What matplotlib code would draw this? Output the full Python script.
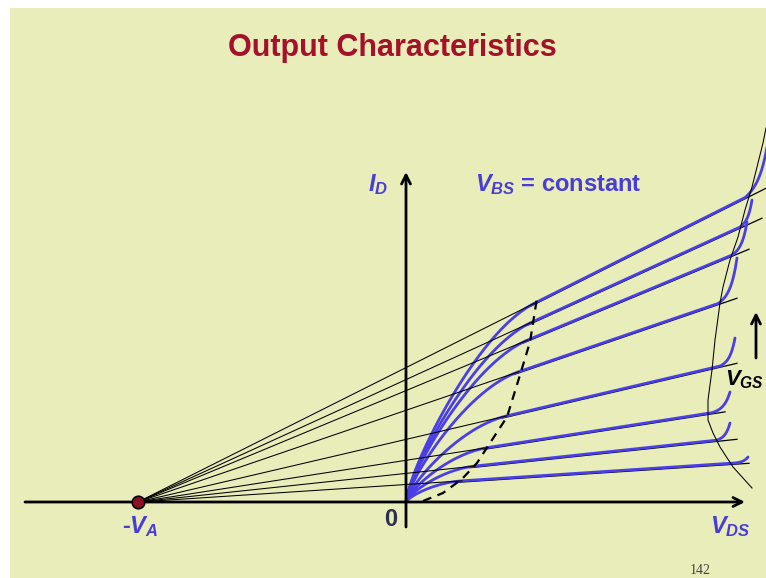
import numpy as np
import matplotlib
matplotlib.use('Agg')
import matplotlib.pyplot as plt
from matplotlib.patches import Rectangle
from matplotlib.transforms import offset_copy

plt.rcParams['font.family'] = ['Liberation Sans', 'DejaVu Sans']
plt.rcParams['mathtext.fontset'] = 'custom'
plt.rcParams['mathtext.it'] = 'Liberation Sans:bold:italic'
plt.rcParams['mathtext.rm'] = 'Liberation Sans:bold'
plt.rcParams['mathtext.bf'] = 'Liberation Sans:bold'

# Early voltage (all saturation lines meet at -VA on the VDS axis)
VA = 2.68
# drain current at VDS = 0 for each saturation line, top curve first
id0 = [1.344, 1.224, 1.114, 0.917, 0.626, 0.417, 0.286, 0.175]
# VDS where each curve enters saturation
vdsat = [1.29, 1.26, 1.22, 1.13, 1.01, 0.82, 0.69, 0.56]
# right end of each thin saturation line
line_end = [3.60, 3.56, 3.43, 3.31, 3.31, 3.19, 3.31, 3.43]
# breakdown: start of upturn, end of curve and current at the end
bd_start = [3.39, 3.34, 3.26, 3.12, 3.14, 3.06, 3.10, 3.29]
bd_end = [3.64, 3.46, 3.41, 3.31, 3.29, 3.24, 3.24, 3.42]
bd_id = [3.75, 3.02, 2.80, 2.44, 1.64, 1.10, 0.79, 0.45]
# dashed VDS,sat boundary
sat_v = [0.17, 0.37, 0.56, 0.71, 0.84, 1.01, 1.14, 1.24, 1.31]
sat_i = [0.01, 0.09, 0.23, 0.39, 0.59, 0.85, 1.27, 1.60, 2.04]
# breakdown locus sketched through the upturns
locus_v = [3.60, 3.57, 3.46, 3.39, 3.32, 3.24, 3.17, 3.14, 3.09, 3.06,
           3.02, 3.02, 3.07, 3.14, 3.27, 3.46]
locus_i = [3.74, 3.59, 3.15, 2.92, 2.65, 2.42, 2.15, 1.99, 1.62, 1.32,
           1.02, 0.82, 0.69, 0.55, 0.35, 0.14]

BLUE = '#4A3FE6'
TEXT_BLUE = '#4A3CD6'
BG = '#E9EDB9'


def sat_line(i0, v):
    return i0 * (1 + v / VA)


fig = plt.figure(figsize=(7.66, 5.78), dpi=100, facecolor='white')
fig.patches.append(Rectangle((10 / 766, 0), 1, 1 - 8 / 578,
                             transform=fig.transFigure, facecolor=BG,
                             edgecolor='none', zorder=-10))
ax = fig.add_axes([0, 0, 1, 1])
ax.set_facecolor('none')
ax.set_xlim(-4.06, 3.60)
ax.set_ylim(-0.76, 5.02)
ax.axis('off')

# saturation lines peek out just below the blue curves
below = offset_copy(ax.transData, fig=fig, x=0, y=-1.2, units='dots')

for k in range(len(id0)):
    # thin line from -VA: over the curves up to VDS,sat, under them after
    v = np.array([-VA, vdsat[k]])
    ax.plot(v, sat_line(id0[k], v), color='black', lw=0.75, zorder=3)
    v = np.array([vdsat[k] - 0.05, line_end[k]])
    ax.plot(v, sat_line(id0[k], v), color='black', lw=0.9, zorder=1,
            transform=below)

    # blue output curve: triode, saturation, breakdown
    v = np.linspace(0, bd_end[k], 600)
    u = np.clip(v / vdsat[k], 0, 1)
    i_d = sat_line(id0[k], v) * (2 * u - u ** 2) ** 0.75
    rise = bd_id[k] - sat_line(id0[k], bd_end[k])
    t = np.clip((v - bd_start[k]) / (bd_end[k] - bd_start[k]), 0, 1)
    i_d = i_d + rise * (np.exp(3 * t) - 1) / (np.exp(3) - 1)
    ax.plot(v, i_d, color=BLUE, lw=2.0, zorder=2, solid_capstyle='round')

ax.plot(sat_v, sat_i, color='black', lw=1.6, ls=(0, (4, 3)), zorder=4)
ax.plot(locus_v, locus_i, color='black', lw=0.75, zorder=3)

# axes with arrows
arrow = dict(arrowstyle='->', lw=2.0, color='black', mutation_scale=16,
             shrinkA=0, shrinkB=0)
ax.annotate('', xy=(3.39, 0), xytext=(-3.81, 0), arrowprops=arrow, zorder=5)
ax.annotate('', xy=(0, 3.30), xytext=(0, -0.25), arrowprops=arrow, zorder=5)
ax.annotate('', xy=(3.50, 1.90), xytext=(3.50, 1.44), arrowprops=arrow,
            zorder=5)

# -VA point
ax.plot([-VA], [0], 'o', ms=9, mfc='#8E1020', mec='black', mew=1.2,
        zorder=6)

ax.text(-2.66, -0.25, '-$V_A$', color=TEXT_BLUE, fontsize=17,
        fontweight='bold', ha='center', va='center')
ax.text(-0.15, -0.18, '0', color='#2E2E50', fontsize=17, fontweight='bold',
        ha='center', va='center')
ax.text(3.24, -0.25, '$V_{DS}$', color=TEXT_BLUE, fontsize=17,
        fontweight='bold', ha='center', va='center')
ax.text(-0.28, 3.17, '$I_D$', color=TEXT_BLUE, fontsize=17,
        fontweight='bold', ha='center', va='center')
ax.text(0.69, 3.17, '$V_{BS}$ = constant', color=TEXT_BLUE, fontsize=17,
        fontweight='bold', ha='left', va='center')
ax.text(3.58, 1.22, '$V_{GS}$', color='black', fontsize=16,
        fontweight='bold', ha='right', va='center')

fig.text(392 / 766, 1 - 48 / 578, 'Output Characteristics', color='#A3122A',
         fontsize=22, fontweight='bold', ha='center', va='center')
fig.text(700 / 766, 1 - 571 / 578, '142', color='#444444', fontsize=10,
         family='Liberation Serif', ha='center', va='center')

fig.savefig('out.png', dpi=100, facecolor=fig.get_facecolor())
